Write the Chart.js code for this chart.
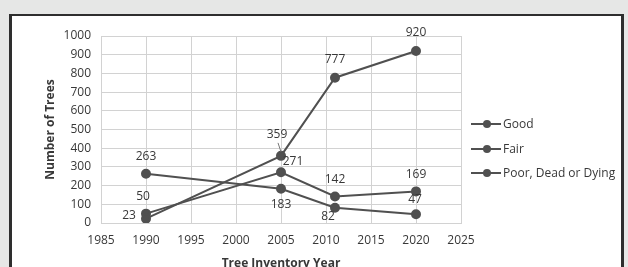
<!DOCTYPE html>
<html><head><meta charset="utf-8">
<script src="https://cdn.jsdelivr.net/npm/chart.js@4/dist/chart.umd.min.js"></script>
<style>
html,body{margin:0;padding:0;background:#e6e7e6;width:628px;height:267px;overflow:hidden}
#frame{position:absolute;left:9px;top:14px;width:609px;height:270px;background:#fff;border-left:3px solid #2e2e2e;border-right:3px solid #2e2e2e;border-top:2px solid #2e2e2e}
#c{position:absolute;left:0;top:0}
</style></head><body>
<div id="frame"></div>
<canvas id="c" width="628" height="267"></canvas>
<script>
// ---- data ----
const years = [1990, 2005, 2011, 2020];
const good = [23, 359, 777, 920];
const fair = [50, 271, 142, 169];
const poor = [263, 183, 82, 47];
const seriesNames = ['Good', 'Fair', 'Poor, Dead or Dying'];
const xTicks = [1985, 1990, 1995, 2000, 2005, 2010, 2015, 2020, 2025];
const yTicks = [0, 100, 200, 300, 400, 500, 600, 700, 800, 900, 1000];
const xTitle = 'Tree Inventory Year';
const yTitle = 'Number of Trees';

// ---- label placement (style) ----
const labelOffsets = [
  [[-17, -3], [-4, -21, true], [0, -18], [0, -18]],
  [[-3, -17], [12, -11], [0, -17], [0, -17]],
  [[0, -17], [0, 16], [-7, 9], [-1, -15]]
];

const FONT = "'Open Sans', 'DejaVu Sans', sans-serif";
const LINE = '#505050';
const TXT = '#383838';

function toXY(vals) { return years.map((y, i) => ({ x: y, y: vals[i] })); }

const datasets = [good, fair, poor].map((vals, i) => ({
  label: seriesNames[i],
  data: toXY(vals),
  borderColor: LINE,
  backgroundColor: LINE,
  borderWidth: 2,
  pointRadius: 4,
  pointHoverRadius: 4,
  pointBackgroundColor: LINE,
  pointBorderColor: LINE,
  showLine: true,
  tension: 0
}));

const labelPlugin = {
  id: 'valueLabels',
  afterDatasetsDraw(chart) {
    const ctx = chart.ctx;
    ctx.save();
    ctx.font = '12px ' + FONT;
    ctx.fillStyle = TXT;
    ctx.textAlign = 'center';
    ctx.textBaseline = 'middle';
    chart.data.datasets.forEach((ds, i) => {
      const meta = chart.getDatasetMeta(i);
      meta.data.forEach((pt, j) => {
        const off = labelOffsets[i][j];
        const lx = pt.x + off[0], ly = pt.y + off[1];
        ctx.fillText(String(ds.data[j].y), lx, ly);
        if (off[2]) {
          ctx.strokeStyle = '#777';
          ctx.lineWidth = 1;
          ctx.beginPath();
          ctx.moveTo(lx + 1, ly + 8);
          ctx.lineTo(pt.x, pt.y - 4);
          ctx.stroke();
        }
      });
    });
    ctx.restore();
  }
};

const legendPlugin = {
  id: 'sideLegend',
  afterDraw(chart) {
    const ctx = chart.ctx;
    const ys = [124, 149, 173];
    ctx.save();
    ctx.font = '12px ' + FONT;
    ctx.textAlign = 'left';
    ctx.textBaseline = 'middle';
    chart.data.datasets.forEach((ds, i) => {
      const y = ys[i];
      ctx.strokeStyle = ds.borderColor;
      ctx.lineWidth = 2;
      ctx.beginPath(); ctx.moveTo(471, y); ctx.lineTo(501, y); ctx.stroke();
      ctx.fillStyle = ds.backgroundColor;
      ctx.beginPath(); ctx.arc(487, y, 4, 0, Math.PI * 2); ctx.fill();
      ctx.fillStyle = TXT;
      ctx.fillText(ds.label, 503, y + 0.5);
    });
    ctx.restore();
  }
};

new Chart(document.getElementById('c'), {
  type: 'scatter',
  data: { datasets },
  plugins: [labelPlugin, legendPlugin],
  options: {
    responsive: false,
    animation: false,
    devicePixelRatio: 1,
    layout: { padding: { left: 43, right: 167, top: 36, bottom: 0 } },
    plugins: { legend: { display: false }, tooltip: { enabled: false } },
    scales: {
      x: {
        type: 'linear', min: xTicks[0], max: xTicks[xTicks.length - 1],
        afterBuildTicks: s => { s.ticks = xTicks.map(v => ({ value: v })); },
        afterFit: s => { s.height = 44; },
        grid: { color: '#d2d2d2', lineWidth: 1, drawTicks: false },
        border: { color: '#d2d2d2' },
        ticks: { padding: 10, color: TXT, font: { family: FONT, size: 12 }, callback: v => String(v), maxRotation: 0, autoSkip: false },
        title: { display: true, text: xTitle, color: TXT, font: { family: FONT, size: 12, weight: 'bold' }, padding: { top: 0, bottom: -4 } }
      },
      y: {
        type: 'linear', min: yTicks[0], max: yTicks[yTicks.length - 1],
        afterBuildTicks: s => { s.ticks = yTicks.map(v => ({ value: v })); },
        afterFit: s => { s.width = 58; },
        grid: { color: '#d2d2d2', lineWidth: 1, drawTicks: false },
        border: { color: '#d2d2d2' },
        ticks: { padding: 10, color: TXT, font: { family: FONT, size: 12 }, callback: v => String(v), autoSkip: false },
        title: { display: true, text: yTitle, color: TXT, font: { family: FONT, size: 12, weight: 'bold' }, padding: 0 }
      }
    }
  }
});
</script>
</body></html>
